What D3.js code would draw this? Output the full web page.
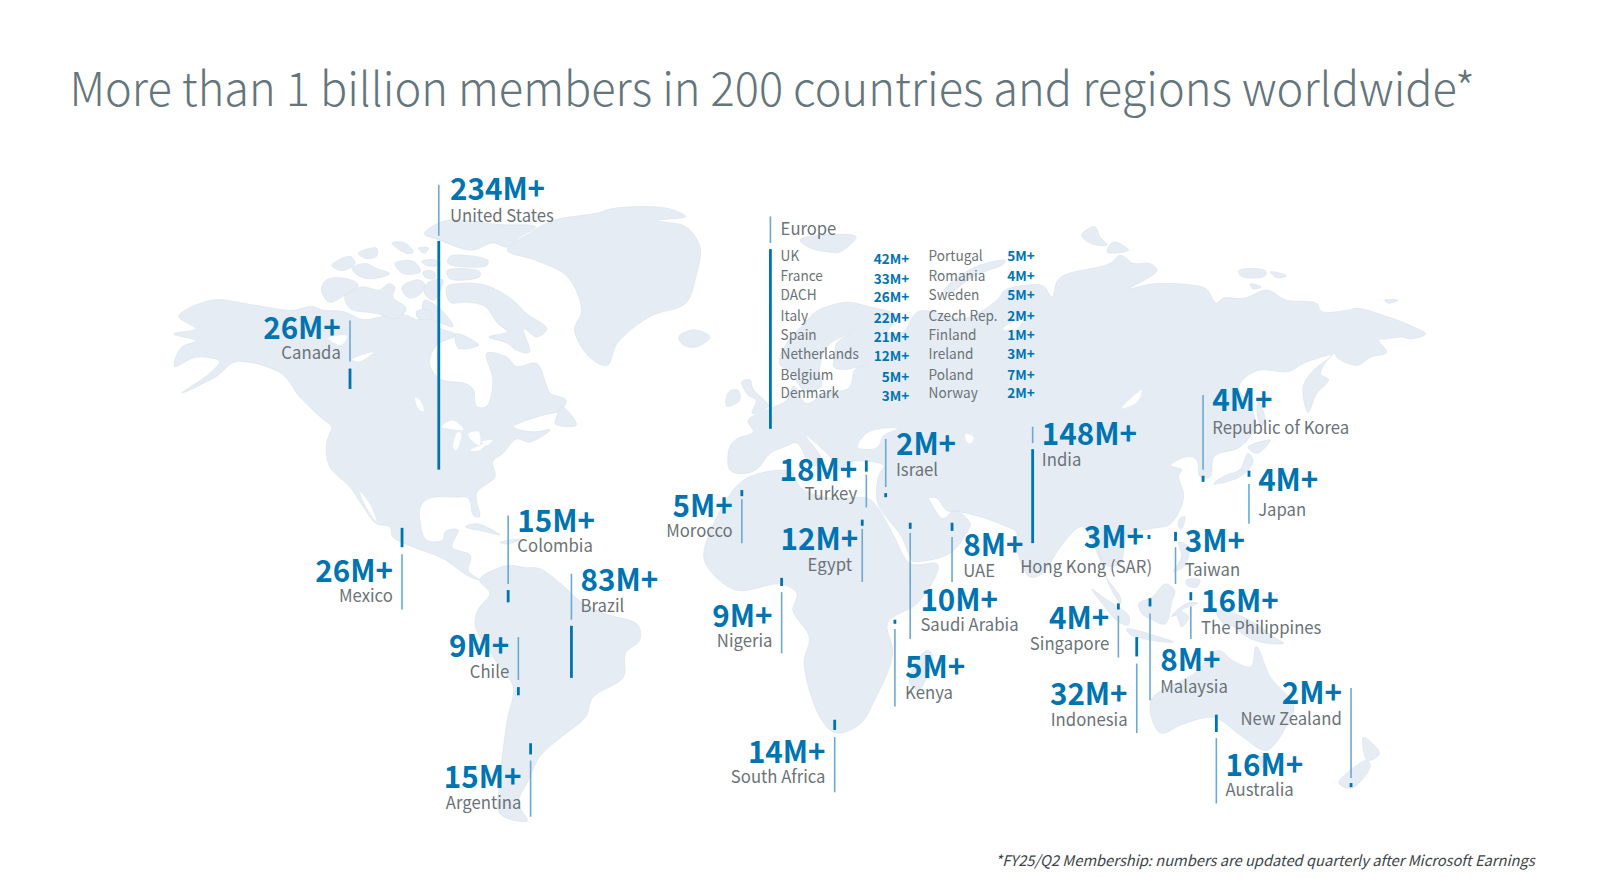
<!DOCTYPE html>
<html>
<head>
<meta charset="utf-8">
<style>
    html, body { margin: 0; background: #fff; }
    svg { display: block; }
    text { font-family: "Noto Sans CJK JP", "Open Sans", sans-serif; }
</style>
<script src="https://cdn.jsdelivr.net/npm/d3@7"></script>
</head>
<body>
<div id="container"></div>
<script>
const titleText = "More than 1 billion members in 200 countries and regions worldwide*";
const footnoteText = "*FY25/Q2 Membership: numbers are updated quarterly after Microsoft Earnings";

// members per country, in millions
const countries = ["United States", "Canada", "Mexico", "Colombia", "Brazil", "Chile", "Argentina",
    "Morocco", "Nigeria", "South Africa", "Egypt", "Turkey", "Israel", "Saudi Arabia", "Kenya", "UAE",
    "India", "Hong Kong (SAR)", "Taiwan", "The Philippines", "Singapore", "Indonesia", "Malaysia",
    "Australia", "New Zealand", "Republic of Korea", "Japan"];
const members = [234, 26, 26, 15, 83, 9, 15, 5, 9, 14, 12, 18, 2, 10, 5, 8, 148, 3, 3, 16, 4, 32, 8, 16, 2, 4, 4];

const europeLeft = ["UK", "France", "DACH", "Italy", "Spain", "Netherlands", "Belgium", "Denmark"];
const europeLeftMembers = [42, 33, 26, 22, 21, 12, 5, 3];
const europeRight = ["Portugal", "Romania", "Sweden", "Czech Rep.", "Finland", "Ireland", "Poland", "Norway"];
const europeRightMembers = [5, 4, 5, 2, 1, 3, 7, 2];

// label layout in map units, same order as countries: [x, anchor, value baseline, name baseline, name x if different]
const labelLayout = [
    [441, "start", 196, 217], [334, "end", 332, 352], [385, "end", 570, 590], [507, "start", 521, 541],
    [569, "start", 579, 599], [499, "end", 644, 664], [511, "end", 772, 792], [718, "end", 506, 526],
    [757, "end", 614, 634], [809, "end", 747, 767], [841, "end", 539, 559, 835], [840, "end", 471, 490],
    [878, "start", 446, 466], [902, "start", 598, 618], [887, "start", 664, 685], [944, "start", 545, 565],
    [1021, "start", 436, 456], [1121, "end", 537, 561, 1129], [1161, "start", 541, 564], [1177, "start", 599, 621],
    [1087, "end", 616, 637], [1105, "end", 691, 711], [1137, "start", 657, 679], [1201, "start", 760, 780],
    [1315, "end", 690, 710], [1188, "start", 403, 425], [1233, "start", 481, 505]
];

// leader layout, same order as countries: [x, thin from, thin to, thick from, thick to]
const leaderLayout = [
    [430, 181, 231, 236, 460], [343, 314, 354, 361, 381], [394, 543, 597, 517, 536], [498, 505, 572, 578, 590],
    [560, 562, 607, 613, 664], [508, 624, 666, 673, 681], [520, 745, 800, 728, 739], [727, 489, 532, 480, 486],
    [766, 580, 640, 566, 574], [818, 722, 776, 705, 715], [845, 518, 570, 509, 515], [849, 465, 497, 451, 462],
    [868, 430, 477, 483, 487], [892, 522, 626, 512, 518], [877, 616, 692, 607, 611], [933, 526, 570, 512, 520],
    [1012, 418, 434, 440, 532], [1126, 524, 524, 524, 528], [1152, 536, 572, 521, 530], [1167, 594, 626, 580, 588],
    [1096, 603, 644, 591, 597], [1114, 650, 718, 624, 643], [1127, 601, 686, 586, 594], [1192, 723, 787, 700, 717],
    [1324, 674, 762, 767, 771], [1179, 387, 460, 466, 472], [1224, 474, 513, 461, 467]
];

const europeLeader = [755, 212, 238, 244, 420];
const europeRowNames = [256, 275, 294, 314, 333, 352, 372, 390];
const europeRowValues = [259, 278, 296, 316, 335, 354, 374, 393];
const europeRightValues = [256, 275, 294, 314, 333, 352, 372, 390];

// land outlines, in map units
const landShapes = [
    // north america
    [[170,327],[192,322],[175,310],[208,294],[250,299],[287,304],[305,300],[317,304],[336,305],[356,313],[375,310],[395,308],[411,313],[415,304],[430,307],[430,320],[447,328],[428,338],[421,356],[431,371],[457,376],[464,382],[467,398],[477,398],[483,372],[477,346],[497,350],[506,359],[526,356],[535,376],[539,385],[555,392],[549,402],[531,407],[503,418],[522,423],[539,421],[519,433],[506,430],[493,444],[483,452],[485,467],[467,483],[470,506],[464,505],[459,488],[444,487],[421,488],[412,496],[412,513],[418,529],[434,529],[436,521],[449,519],[443,536],[461,544],[459,559],[470,568],[460,565],[434,547],[408,537],[385,526],[382,516],[369,513],[355,495],[343,477],[323,457],[320,434],[325,418],[318,412],[294,389],[276,366],[238,354],[227,356],[213,368],[178,385],[205,366],[215,354],[192,350],[171,359],[178,340],[192,334]],
    [[545,410],[550,398],[565,416],[557,418],[544,415]],
    // greenland
    [[497,245],[518,229],[542,216],[584,209],[602,204],[654,204],[672,212],[644,216],[672,222],[686,242],[682,271],[672,297],[637,310],[605,336],[595,358],[577,349],[563,323],[570,304],[556,271],[525,255]],
    // canadian arctic islands
    [[416,229],[437,216],[490,220],[525,222],[510,232],[497,242],[483,238],[462,245],[430,235]],
    [[438,281],[447,278],[474,279],[500,292],[516,307],[536,322],[526,330],[513,322],[519,345],[506,343],[497,336],[479,330],[497,325],[488,317],[475,300],[457,296],[441,296]],
    [[338,289],[354,281],[372,284],[381,278],[387,281],[385,291],[398,302],[389,312],[369,307],[343,302]],
    [[315,284],[320,274],[340,273],[351,279],[338,289],[323,296]],
    [[325,260],[343,251],[348,258],[336,265]],
    [[345,263],[358,258],[369,263],[382,268],[366,273],[353,271]],
    [[351,248],[369,243],[369,251],[358,253]],
    [[384,238],[397,238],[405,247],[398,248]],
    [[387,258],[405,256],[412,266],[395,268]],
    [[415,266],[425,266],[426,273],[416,271]],
    [[410,243],[420,243],[416,248]],
    [[413,256],[428,255],[428,260],[418,260]],
    [[394,281],[410,274],[416,278],[413,287],[403,292],[397,289]],
    [[418,278],[434,274],[425,294],[416,287]],
    [[416,294],[433,304],[444,320],[434,317],[415,307]],
    [[408,305],[421,304],[423,312],[410,312]],
    [[441,251],[478,255],[477,260],[439,258]],
    [[438,265],[470,266],[470,271],[441,273]],
    [[447,327],[469,338],[449,341]],
    // caribbean
    [[456,516],[468,513],[490,524],[477,521]],
    [[490,531],[510,528],[497,533]],
    // south america
    [[470,568],[497,554],[515,556],[529,557],[550,572],[570,590],[592,601],[625,612],[627,627],[613,640],[611,663],[581,683],[574,702],[550,722],[529,741],[518,764],[508,787],[517,804],[490,797],[490,764],[497,706],[503,673],[490,653],[466,614],[468,598],[480,581]],
    // eurasia
    [[715,438],[722,430],[738,423],[733,412],[755,400],[771,392],[778,378],[790,395],[810,385],[832,380],[838,362],[848,358],[825,362],[817,359],[818,348],[820,336],[833,327],[812,338],[803,362],[805,378],[790,384],[775,365],[764,356],[771,336],[790,315],[800,305],[830,296],[850,300],[880,310],[870,325],[885,325],[900,305],[945,312],[977,294],[985,284],[1000,280],[1022,280],[1031,291],[1036,275],[1044,269],[1088,258],[1098,250],[1111,258],[1127,258],[1134,265],[1124,273],[1106,283],[1130,278],[1166,279],[1182,283],[1192,297],[1199,292],[1220,292],[1241,284],[1261,294],[1290,297],[1295,305],[1320,304],[1330,302],[1359,310],[1385,320],[1397,327],[1383,332],[1374,330],[1359,332],[1351,333],[1359,345],[1343,350],[1330,358],[1310,350],[1308,346],[1294,366],[1302,372],[1290,386],[1282,404],[1277,379],[1287,363],[1305,348],[1277,356],[1263,364],[1232,363],[1214,379],[1227,400],[1230,418],[1215,438],[1190,447],[1186,467],[1176,467],[1173,451],[1165,447],[1147,456],[1158,460],[1155,466],[1160,487],[1147,513],[1127,518],[1105,524],[1101,542],[1098,552],[1084,554],[1076,537],[1078,544],[1088,575],[1098,591],[1098,585],[1084,565],[1078,548],[1061,516],[1055,518],[1039,536],[1021,562],[1009,565],[996,536],[996,521],[987,516],[960,506],[939,501],[928,500],[918,488],[910,488],[912,492],[924,508],[936,500],[951,513],[949,519],[931,542],[895,550],[893,548],[883,525],[861,495],[859,478],[862,464],[866,456],[835,452],[822,460],[813,447],[789,426],[806,452],[795,456],[781,434],[768,438],[755,444],[741,460],[727,464],[715,460]],
    // africa
    [[721,477],[740,465],[775,462],[785,478],[815,488],[850,488],[860,497],[876,525],[892,552],[919,553],[900,590],[870,610],[875,640],[857,686],[843,709],[820,718],[805,705],[788,650],[793,624],[777,598],[781,581],[765,572],[721,578],[693,555],[690,539]],
    [[891,668],[908,637],[914,642],[900,676]],
    // islands of the north atlantic and europe
    [[665,330],[680,323],[696,330],[682,340],[670,338]],
    [[727,374],[735,372],[738,381],[746,389],[753,398],[737,405],[741,392],[733,387]],
    [[714,384],[723,382],[725,392],[712,398]],
    [[784,235],[810,230],[839,232],[823,247],[813,247],[794,243]],
    [[985,255],[952,263],[925,285],[930,287],[955,270],[983,259]],
    [[1060,230],[1073,222],[1078,232],[1085,240],[1068,238]],
    [[1085,247],[1091,237],[1106,245]],
    [[1214,265],[1240,265],[1240,270],[1217,271]],
    [[1245,266],[1261,270],[1251,272]],
    [[1225,278],[1236,281],[1228,283]],
    [[1357,294],[1370,294],[1361,297]],
    // japan and east asia
    [[1189,474],[1215,467],[1228,452],[1223,444],[1215,460],[1200,466]],
    [[1223,438],[1245,431],[1232,444]],
    [[1233,392],[1240,412],[1236,418],[1232,405]],
    [[1156,508],[1161,506],[1158,518],[1155,516]],
    // southeast asia
    [[1070,577],[1081,585],[1106,603],[1106,612],[1096,609],[1080,591]],
    [[1116,591],[1129,585],[1142,572],[1151,578],[1148,591],[1142,611],[1127,606],[1119,601]],
    [[1104,616],[1130,622],[1150,629],[1127,627],[1107,621]],
    [[1148,604],[1163,591],[1174,591],[1158,598],[1165,604],[1158,614],[1153,603]],
    [[1155,531],[1165,536],[1161,554],[1150,560],[1158,545]],
    [[1163,568],[1176,568],[1173,575],[1163,573]],
    [[1192,598],[1215,603],[1232,612],[1248,624],[1258,630],[1241,630],[1222,624],[1209,614],[1199,611]],
    // australia
    [[1128,686],[1137,718],[1160,709],[1190,703],[1218,722],[1241,735],[1262,709],[1268,692],[1245,663],[1231,633],[1226,653],[1208,647],[1194,637],[1170,660]],
    [[1232,742],[1245,742],[1238,752]],
    // new zealand
    [[1312,767],[1339,745],[1343,750],[1325,772]],
    [[1336,722],[1352,738],[1340,745]]
];

// lakes and inland seas, drawn in white over the land
const waterShapes = [
    [[433,418],[444,412],[454,421],[441,420]],
    [[449,423],[452,425],[447,441],[444,438]],
    [[459,425],[469,423],[470,436],[462,431]],
    [[461,441],[477,434],[470,441]],
    [[472,433],[483,431],[477,436]],
    [[407,389],[413,394],[415,403],[410,400]],
    [[841,438],[849,425],[866,420],[879,420],[866,426],[859,438]],
    [[946,425],[954,428],[952,434],[948,433]],
    [[1099,400],[1119,382],[1114,394]],
    [[983,322],[1003,312],[995,323]],
    [[353,482],[363,495],[369,511],[358,495]],
    [[322,331],[340,329],[334,338]],
    [[345,352],[366,345],[352,354]]
];

const mapUnitWidth = 1568;
const mapUnitHeight = 860;

function placed(xScale, yScale, x, y, squeeze) {
    return `translate(${xScale(x)},${yScale(y)}) scale(${squeeze},1)`;
}

function drawChart() {
    const width = 1600;
    const height = 878;

    const xScale = d3.scaleLinear().domain([0, mapUnitWidth]).range([0, width]);
    const yScale = d3.scaleLinear().domain([0, mapUnitHeight]).range([0, height]);

    const svg = d3.select("#container").append("svg")
        .attr("width", width)
        .attr("height", height);

    const outline = d3.line()
        .x(d => xScale(d[0]))
        .y(d => yScale(d[1]))
        .curve(d3.curveCatmullRomClosed.alpha(0.5));

    // adds map
    svg.append("g").selectAll("path").data(landShapes).join("path")
        .attr("d", outline)
        .attr("fill", "#e6ecf4")
        .attr("stroke", "#d9e0ea")
        .attr("stroke-width", 0.6);

    svg.append("g").selectAll("path").data(waterShapes).join("path")
        .attr("d", outline)
        .attr("fill", "#fff");

    // adds title and footnote
    svg.append("text")
        .attr("transform", placed(xScale, yScale, 68, 104, 0.972))
        .attr("font-size", 46.5)
        .attr("font-weight", 300)
        .attr("fill", "#64757c")
        .text(titleText);

    svg.append("text")
        .attr("x", xScale(1504))
        .attr("y", yScale(848))
        .attr("text-anchor", "end")
        .attr("font-size", 14.7)
        .attr("font-style", "italic")
        .attr("fill", "#3c4449")
        .text(footnoteText);

    // adds leaders
    const leaders = leaderLayout.concat([europeLeader]);
    const leaderGroup = svg.append("g");
    leaderGroup.selectAll("line.thin").data(leaders.filter(d => d[2] > d[1])).join("line")
        .attr("class", "thin")
        .attr("x1", d => xScale(d[0])).attr("x2", d => xScale(d[0]))
        .attr("y1", d => yScale(d[1])).attr("y2", d => yScale(d[2]))
        .attr("stroke", "#6aa9d3")
        .attr("stroke-width", 1.6);
    leaderGroup.selectAll("line.thick").data(leaders).join("line")
        .attr("class", "thick")
        .attr("x1", d => xScale(d[0])).attr("x2", d => xScale(d[0]))
        .attr("y1", d => yScale(d[3])).attr("y2", d => yScale(d[4]))
        .attr("stroke", "#0073b1")
        .attr("stroke-width", 2.8);

    // adds country labels
    const labels = svg.append("g").selectAll("g").data(countries).join("g");
    labels.append("text")
        .attr("transform", (d, i) => placed(xScale, yScale, labelLayout[i][0], labelLayout[i][2], 0.955))
        .attr("text-anchor", (d, i) => labelLayout[i][1])
        .attr("font-size", 31)
        .attr("font-weight", 700)
        .attr("fill", "#0073b1")
        .text((d, i) => `${members[i]}M+`);
    labels.append("text")
        .attr("transform", (d, i) => placed(xScale, yScale, labelLayout[i][4] || labelLayout[i][0], labelLayout[i][3], 0.955))
        .attr("text-anchor", (d, i) => labelLayout[i][1])
        .attr("font-size", 17.5)
        .attr("fill", "#6b7378")
        .text(d => d);

    // adds europe table
    svg.append("text")
        .attr("transform", placed(xScale, yScale, 765, 230, 0.95))
        .attr("font-size", 17.5)
        .attr("fill", "#6b7378")
        .text("Europe");

    addEuropeColumn(svg, xScale, yScale, europeLeft, europeLeftMembers, 765, 891, europeRowValues);
    addEuropeColumn(svg, xScale, yScale, europeRight, europeRightMembers, 910, 1014, europeRightValues);
}

function addEuropeColumn(svg, xScale, yScale, names, values, nameX, valueX, valueRows) {
    const group = svg.append("g");
    group.selectAll("text.name").data(names).join("text")
        .attr("class", "name")
        .attr("transform", (d, i) => placed(xScale, yScale, nameX, europeRowNames[i], 0.94))
        .attr("font-size", 14.5)
        .attr("fill", "#6b7378")
        .text(d => d);
    group.selectAll("text.value").data(values).join("text")
        .attr("class", "value")
        .attr("x", xScale(valueX))
        .attr("y", (d, i) => yScale(valueRows[i]))
        .attr("text-anchor", "end")
        .attr("font-size", 13.5)
        .attr("font-weight", 700)
        .attr("fill", "#0073b1")
        .text(d => `${d}M+`);
}

drawChart();
</script>
</body>
</html>
